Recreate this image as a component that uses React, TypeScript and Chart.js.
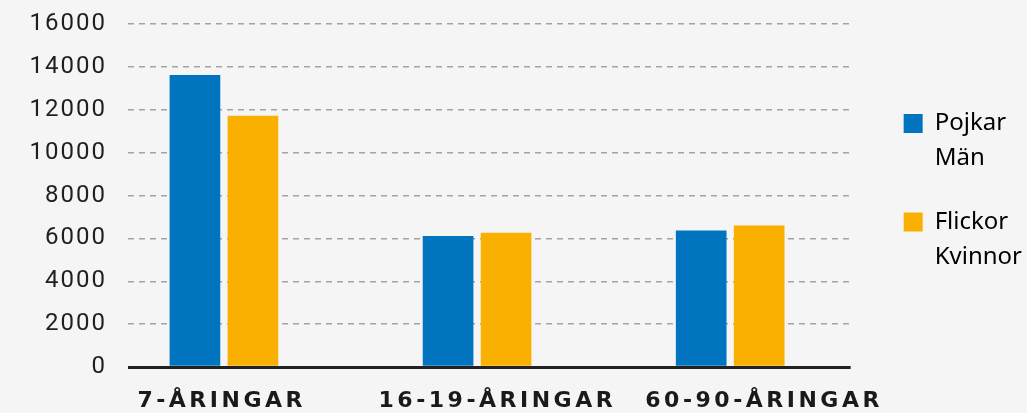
import React, { useEffect, useRef } from 'react';
import { Chart, registerables, layouts } from 'chart.js';

Chart.register(...registerables);

// ---- data ----
const categories = ['7-ÅRINGAR', '16-19-ÅRINGAR', '60-90-ÅRINGAR'];
const boysMen = [13600, 6100, 6350];
const girlsWomen = [11700, 6250, 6580];
const legendLines = [
  ['Pojkar', 'Män'],
  ['Flickor', 'Kvinnor'],
];
const seriesNames = ['Pojkar/Män', 'Flickor/Kvinnor'];
const yMax = 16000;
const yStep = 2000;

// ---- layout / style (not data) ----
const X_MIN = -0.379;
const X_MAX = 2.476;
const LABEL_SLOTS = [-0.009, 1.08, 2.134];
const COLORS = ['#0074BE', '#F9B000'];
const LETTER_SPACING: Record<string, string> = { y: '2px', xl: '3.5px' };

const letterSpacingPlugin = {
  id: 'letterSpacing',
  beforeDraw(chart: any) {
    for (const id of Object.keys(LETTER_SPACING)) {
      const s = chart.scales[id];
      if (!s || s._lsPatched) continue;
      const orig = s.drawLabels;
      const sp = LETTER_SPACING[id];
      s.drawLabels = function (area: any) {
        const c = this.ctx;
        const prev = c.letterSpacing;
        c.letterSpacing = sp;
        orig.call(this, area);
        c.letterSpacing = prev || '0px';
      };
      s._lsPatched = true;
    }
  },
};

const spacerPlugin = {
  id: 'legendSpacer',
  beforeInit(chart: any) {
    const box: any = {
      position: 'right',
      weight: 0,
      fullSize: false,
      options: { stackWeight: 1 },
      left: 0,
      top: 0,
      right: 0,
      bottom: 0,
      width: 0,
      height: 0,
      isHorizontal() {
        return false;
      },
      update(_maxWidth: number, maxHeight: number) {
        this.width = 24;
        this.height = maxHeight;
      },
      draw() {},
    };
    layouts.addBox(chart, box);
  },
};

export default function App() {
  const canvasRef = useRef<HTMLCanvasElement | null>(null);

  useEffect(() => {
    if (!canvasRef.current) return;
    const isZero = (c: any) => c.tick && c.tick.value === 0;
    const chart = new Chart(canvasRef.current, {
      type: 'bar',
      data: {
        datasets: [boysMen, girlsWomen].map((vals, di) => ({
          label: seriesNames[di],
          data: vals.map((v, i) => ({ x: i, y: v })),
          backgroundColor: COLORS[di],
          borderWidth: 0,
          barThickness: 58,
          maxBarThickness: 50,
        })),
      },
      options: {
        responsive: false,
        animation: false,
        layout: { padding: { top: 24, right: -5, bottom: 0, left: 0 } },
        plugins: {
          legend: {
            position: 'right',
            fullSize: false,
            align: 'center',
            labels: {
              boxWidth: 19,
              boxHeight: 19,
              padding: 29,
              color: '#262626',
              font: { family: "'Noto Sans', sans-serif", size: 24, lineHeight: 1.45 },
              generateLabels: (ch: any) =>
                ch.data.datasets.map((ds: any, i: number) => ({
                  text: legendLines[i],
                  fillStyle: ds.backgroundColor,
                  strokeStyle: ds.backgroundColor,
                  lineWidth: 0,
                  hidden: false,
                  datasetIndex: i,
                })),
            },
          },
          tooltip: { enabled: false },
        },
        scales: {
          x: {
            type: 'linear',
            display: false,
            min: X_MIN,
            max: X_MAX,
            offset: false,
          },
          xl: {
            type: 'linear',
            position: 'bottom',
            min: X_MIN,
            max: X_MAX,
            offset: false,
            afterBuildTicks: (ax: any) => {
              ax.ticks = LABEL_SLOTS.map((v) => ({ value: v }));
            },
            afterFit: (ax: any) => {
              ax.height = 46;
              ax.paddingLeft = 0;
              ax.paddingRight = 0;
            },
            grid: { display: false },
            border: { display: false },
            ticks: {
              autoSkip: false,
              maxRotation: 0,
              minRotation: 0,
              padding: 13,
              color: '#1a1a1a',
              font: { family: "'DejaVu Sans', sans-serif", size: 22, weight: 'bold' },
              callback: (_v: any, i: number) => categories[i],
            },
          },
          y: {
            min: 0,
            max: yMax,
            afterFit: (ax: any) => {
              ax.width = 128;
              ax.paddingTop = 0;
              ax.paddingBottom = 0;
            },
            ticks: {
              stepSize: yStep,
              padding: 21,
              color: '#1f1f1f',
              font: { family: 'Roboto, sans-serif', size: 24, weight: 400 },
              callback: (v: any) => String(v),
            },
            grid: {
              drawTicks: false,
              color: (c: any) => (isZero(c) ? '#222222' : '#a3a3a3'),
              lineWidth: (c: any) => (isZero(c) ? 3 : 1.5),
            },
            border: {
              display: false,
              dash: (c: any) => (isZero(c) ? [] : [6, 5]),
            },
          },
        },
      } as any,
      plugins: [letterSpacingPlugin, spacerPlugin],
    });
    return () => chart.destroy();
  }, []);

  return (
    <div
      style={{
        position: 'fixed',
        left: 0,
        top: 0,
        width: 1027,
        height: 413,
        background: '#f5f5f5',
      }}
    >
      <canvas ref={canvasRef} width={1027} height={413} style={{ display: 'block' }} />
    </div>
  );
}
